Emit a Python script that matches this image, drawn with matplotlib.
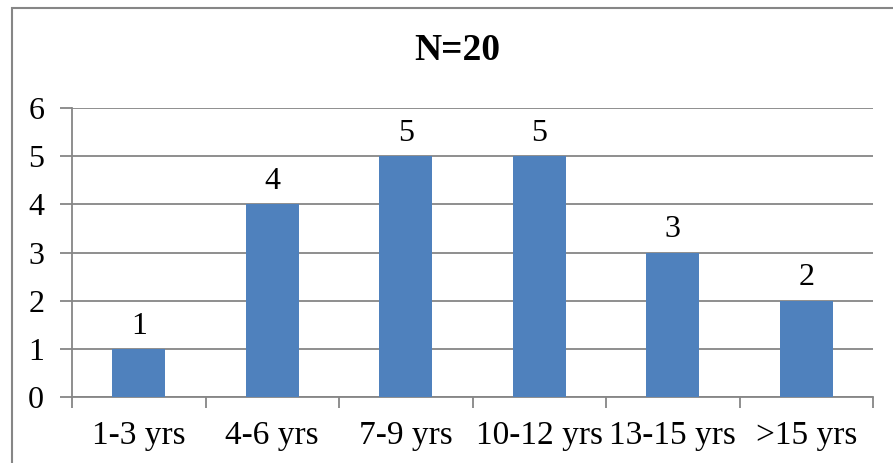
import matplotlib.pyplot as plt
from matplotlib.patches import Rectangle

categories = ['1-3 yrs', '4-6 yrs', '7-9 yrs', '10-12 yrs', '13-15 yrs', '>15 yrs']
counts = [1, 4, 5, 5, 3, 2]
title = 'N=20'

plt.rcParams['font.family'] = ['Liberation Serif', 'DejaVu Serif']

fig = plt.figure(figsize=(8.93, 4.63), dpi=100)
ax = fig.add_axes([72 / 893, 1 - 397 / 463, (873 - 72) / 893, (397 - 108) / 463])

# outer chart border (runs off the right/bottom edge like the screenshot)
fig.patches.append(Rectangle((12 / 893, -0.1), 1.0, 1 - 8 / 463 + 0.1,
                             transform=fig.transFigure, fill=False,
                             edgecolor='#868686', linewidth=1.5))

x = range(len(categories))
bars = ax.bar(x, counts, width=0.4, color='#4F81BD', zorder=3)
for b, v in zip(bars, counts):
    ax.text(b.get_x() + b.get_width() / 2, v + 0.17, str(v),
            ha='center', va='bottom', fontsize=23)

ax.set_xlim(-0.5, len(categories) - 0.5)
ax.set_ylim(0, 6)
ax.set_yticks(range(7))
ax.yaxis.grid(True, color='#868686', linewidth=1.3, zorder=0)
ax.set_xticks(x)
ax.set_xticklabels(categories)
ax.set_xticks([i - 0.5 for i in range(len(categories) + 1)], minor=True)
ax.tick_params(axis='x', which='major', length=0, labelsize=24, pad=17)
ax.tick_params(axis='x', which='minor', length=8, width=1.3, color='#868686')
ax.tick_params(axis='y', length=9, width=1.3, color='#868686', labelsize=23, pad=11)

for s in ['top', 'right']:
    ax.spines[s].set_visible(False)
for s in ['left', 'bottom']:
    ax.spines[s].set_color('#868686')
    ax.spines[s].set_linewidth(1.3)

fig.text(457 / 893, 1 - 50 / 463, title, ha='center', va='center',
         fontsize=27, fontweight='bold')

fig.savefig('out.png', dpi=100)
